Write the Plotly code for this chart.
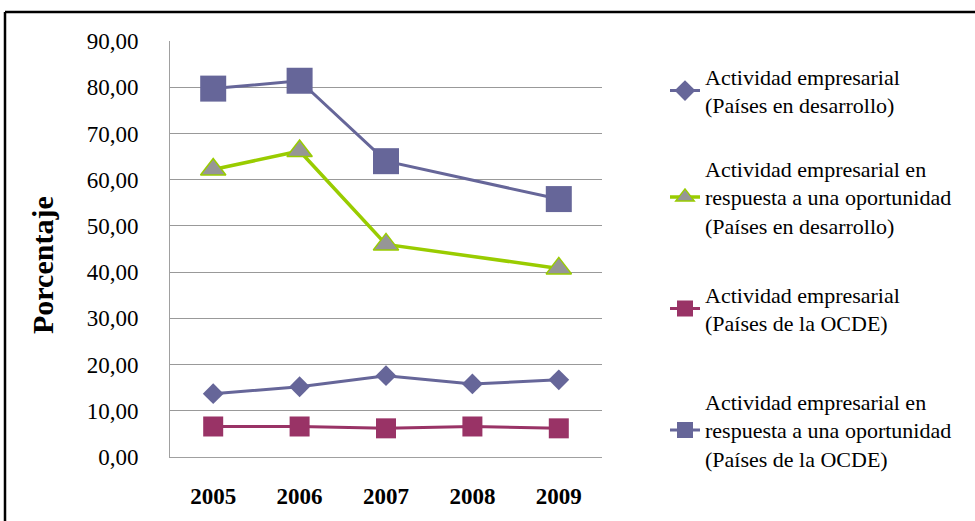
import plotly.graph_objects as go

years = ["2005", "2006", "2007", "2008", "2009"]
dev_act = [13.7, 15.2, 17.6, 15.8, 16.7]
dev_opp = [62.2, 66.2, 46.0, None, 40.8]
oecd_act = [6.6, 6.6, 6.2, 6.6, 6.2]
oecd_opp = [79.7, 81.4, 64.0, None, 55.8]

names = [
    "Actividad empresarial<br>(Países en desarrollo)",
    "Actividad empresarial en<br>respuesta a una oportunidad<br>(Países en desarrollo)",
    "Actividad empresarial<br>(Países de la OCDE)",
    "Actividad empresarial en<br>respuesta a una oportunidad<br>(Países de la OCDE)",
]

BLUE = "#666699"
GREEN = "#99CC00"
MAROON = "#993366"
GRAY = "#969696"
FONT = "Liberation Serif, Times New Roman, serif"

fig = go.Figure()
fig.add_trace(go.Scatter(x=years, y=dev_act, name=names[0], mode="lines+markers",
                         line=dict(color=BLUE, width=3),
                         marker=dict(symbol="diamond", size=16, color=BLUE),
                         legend="legend"))
fig.add_trace(go.Scatter(x=years, y=dev_opp, name=names[1], mode="lines+markers",
                         connectgaps=True,
                         line=dict(color=GREEN, width=3.5),
                         marker=dict(symbol="triangle-up", size=22, color=GRAY,
                                     line=dict(color=GREEN, width=1.5)),
                         legend="legend2"))
fig.add_trace(go.Scatter(x=years, y=oecd_act, name=names[2], mode="lines+markers",
                         line=dict(color=MAROON, width=3),
                         marker=dict(symbol="square", size=20, color=MAROON),
                         legend="legend3"))
fig.add_trace(go.Scatter(x=years, y=oecd_opp, name=names[3], mode="lines+markers",
                         connectgaps=True,
                         line=dict(color=BLUE, width=3),
                         marker=dict(symbol="square", size=26, color=BLUE),
                         legend="legend4"))

L, R, T, B = 170, 373, 41, 64
W, H = 975, 521
pw, ph = W - L - R, H - T - B

def px_x(p):
    return (p - L) / pw

def px_y(p):
    return (H - B - p) / ph

legend_common = dict(font=dict(family=FONT, size=22, color="#000000"),
                     bgcolor="rgba(0,0,0,0)", xanchor="left", yanchor="middle",
                     x=px_x(665), valign="middle", itemwidth=30)

fig.update_layout(
    width=W, height=H,
    margin=dict(l=L, r=R, t=T, b=B, autoexpand=False),
    paper_bgcolor="white", plot_bgcolor="white",
    separators=",.",
    font=dict(family=FONT, color="#000000"),
    showlegend=True,
    legend=dict(**legend_common, y=px_y(91)),
    legend2=dict(**legend_common, y=px_y(197)),
    legend3=dict(**legend_common, y=px_y(309)),
    legend4=dict(**legend_common, y=px_y(430)),
    xaxis=dict(type="category", range=[-0.5, 4.5], automargin=False,
               showgrid=False, zeroline=False,
               showline=True, linecolor="#a0a0a0", linewidth=1,
               ticks="outside", ticklen=18, tickcolor="rgba(0,0,0,0)",
               tickfont=dict(family=FONT, size=23, color="#000000", weight="bold")),
    yaxis=dict(range=[0, 90], dtick=10, tickformat=".2f", automargin=False,
               showgrid=True, gridcolor="#999999", gridwidth=1,
               zeroline=False, showline=True, linecolor="#a0a0a0", linewidth=1,
               ticks="outside", ticklen=26, tickcolor="rgba(0,0,0,0)",
               tickfont=dict(family=FONT, size=23, color="#000000")),
    annotations=[dict(text="<b>Porcentaje</b>", textangle=-90,
                      x=px_x(42), y=px_y(265), xref="paper", yref="paper",
                      xanchor="center", yanchor="middle",
                      showarrow=False, font=dict(family=FONT, size=30, color="#000000"))],
    shapes=[
        dict(type="line", xref="paper", yref="paper", x0=px_x(5), x1=px_x(975),
             y0=px_y(12), y1=px_y(12), line=dict(color="black", width=2.5)),
        dict(type="line", xref="paper", yref="paper", x0=px_x(5), x1=px_x(5),
             y0=px_y(12), y1=px_y(521), line=dict(color="black", width=2.5)),
    ],
)

fig.write_html("out.html", config={"displayModeBar": False},
               post_script="document.body.style.margin='0';")
